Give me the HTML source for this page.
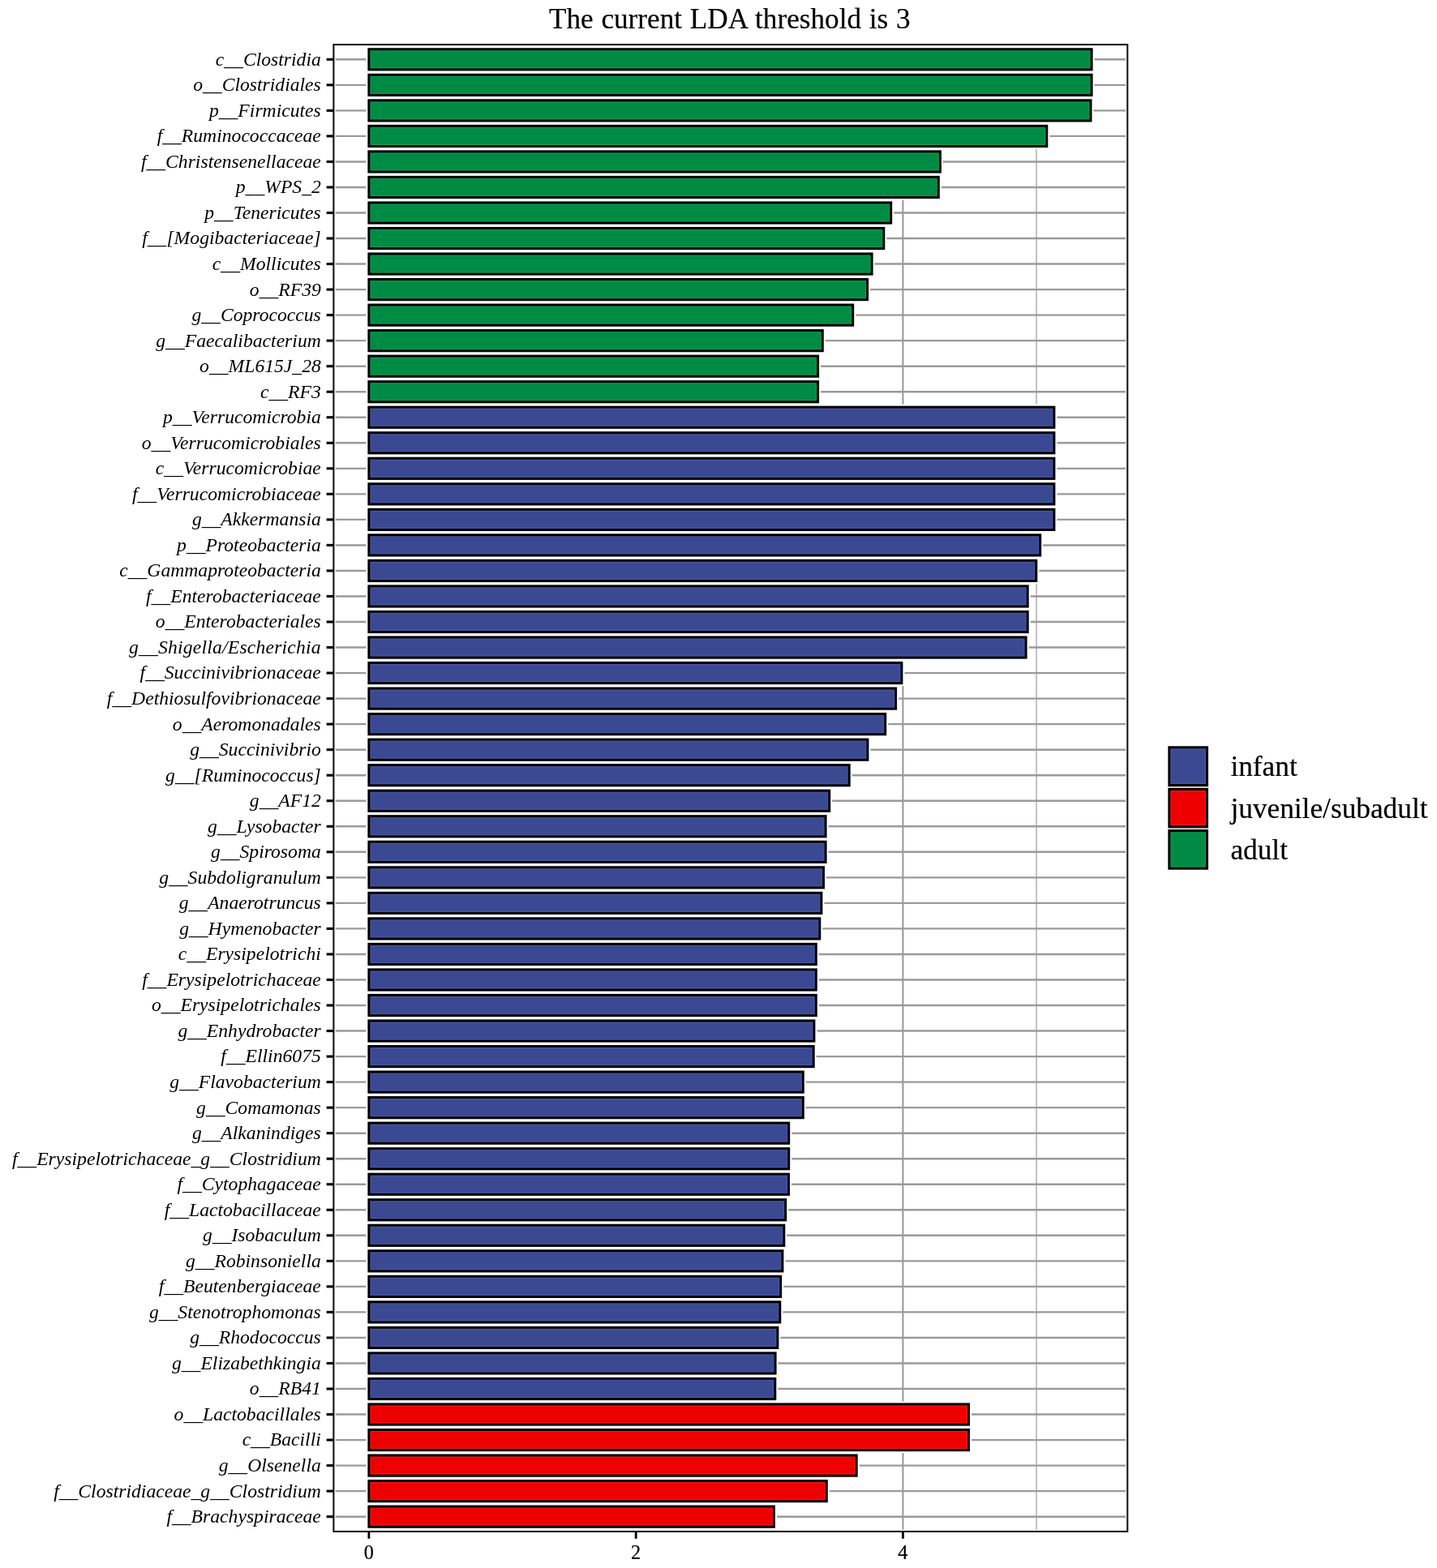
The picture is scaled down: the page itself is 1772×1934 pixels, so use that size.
<!DOCTYPE html>
<html lang="en"><head><meta charset="utf-8"><title>The current LDA threshold is 3</title>
<style>
html,body{margin:0;padding:0;background:#fff}
body{width:1772px;height:1934px}
svg{display:block}
text{font-family:"Liberation Serif","Times New Roman",serif;fill:#000;stroke:#000;stroke-width:0.2px;paint-order:stroke}
.yl{font-style:italic;font-size:23.65px;text-anchor:end;stroke:none}
.xl{font-size:24.3px;text-anchor:middle}
.lg{font-size:35.3px}
.tt{font-size:35.2px;text-anchor:start;word-spacing:1.02px}
.gh{stroke:#9a9a9a;stroke-width:2.4}
.gv{stroke:#9a9a9a;stroke-width:2.1}
.gm{stroke:#9a9a9a;stroke-width:1.2}
.halo{fill:#fff;stroke:#fff;stroke-width:7}
.bar{fill:none;stroke:#000;stroke-width:3}
.tk{stroke:#000;stroke-width:3.1}
.hl{fill:none;stroke-width:1.2;stroke-opacity:0.6}
</style></head><body>
<svg width="1772" height="1934" viewBox="0 0 1772 1934">
<rect x="0" y="0" width="1772" height="1934" fill="#fff"/>
<text class="tt" x="676.9" y="34.9">The current LDA threshold is 3</text>
<g id="grid">
<line class="gm" x1="619.53" y1="55" x2="619.53" y2="1889"/>
<line class="gm" x1="948.79" y1="55" x2="948.79" y2="1889"/>
<line class="gm" x1="1278.05" y1="55" x2="1278.05" y2="1889"/>
<line class="gv" x1="454.9" y1="55" x2="454.9" y2="1889"/>
<line class="gv" x1="784.16" y1="55" x2="784.16" y2="1889"/>
<line class="gv" x1="1113.42" y1="55" x2="1113.42" y2="1889"/>
<line class="gh" x1="411.4" y1="73.3" x2="1390.3" y2="73.3"/>
<line class="gh" x1="411.4" y1="104.83" x2="1390.3" y2="104.83"/>
<line class="gh" x1="411.4" y1="136.37" x2="1390.3" y2="136.37"/>
<line class="gh" x1="411.4" y1="167.9" x2="1390.3" y2="167.9"/>
<line class="gh" x1="411.4" y1="199.43" x2="1390.3" y2="199.43"/>
<line class="gh" x1="411.4" y1="230.97" x2="1390.3" y2="230.97"/>
<line class="gh" x1="411.4" y1="262.5" x2="1390.3" y2="262.5"/>
<line class="gh" x1="411.4" y1="294.03" x2="1390.3" y2="294.03"/>
<line class="gh" x1="411.4" y1="325.56" x2="1390.3" y2="325.56"/>
<line class="gh" x1="411.4" y1="357.1" x2="1390.3" y2="357.1"/>
<line class="gh" x1="411.4" y1="388.63" x2="1390.3" y2="388.63"/>
<line class="gh" x1="411.4" y1="420.16" x2="1390.3" y2="420.16"/>
<line class="gh" x1="411.4" y1="451.7" x2="1390.3" y2="451.7"/>
<line class="gh" x1="411.4" y1="483.23" x2="1390.3" y2="483.23"/>
<line class="gh" x1="411.4" y1="514.76" x2="1390.3" y2="514.76"/>
<line class="gh" x1="411.4" y1="546.29" x2="1390.3" y2="546.29"/>
<line class="gh" x1="411.4" y1="577.83" x2="1390.3" y2="577.83"/>
<line class="gh" x1="411.4" y1="609.36" x2="1390.3" y2="609.36"/>
<line class="gh" x1="411.4" y1="640.89" x2="1390.3" y2="640.89"/>
<line class="gh" x1="411.4" y1="672.43" x2="1390.3" y2="672.43"/>
<line class="gh" x1="411.4" y1="703.96" x2="1390.3" y2="703.96"/>
<line class="gh" x1="411.4" y1="735.49" x2="1390.3" y2="735.49"/>
<line class="gh" x1="411.4" y1="767.03" x2="1390.3" y2="767.03"/>
<line class="gh" x1="411.4" y1="798.56" x2="1390.3" y2="798.56"/>
<line class="gh" x1="411.4" y1="830.09" x2="1390.3" y2="830.09"/>
<line class="gh" x1="411.4" y1="861.62" x2="1390.3" y2="861.62"/>
<line class="gh" x1="411.4" y1="893.16" x2="1390.3" y2="893.16"/>
<line class="gh" x1="411.4" y1="924.69" x2="1390.3" y2="924.69"/>
<line class="gh" x1="411.4" y1="956.22" x2="1390.3" y2="956.22"/>
<line class="gh" x1="411.4" y1="987.76" x2="1390.3" y2="987.76"/>
<line class="gh" x1="411.4" y1="1019.29" x2="1390.3" y2="1019.29"/>
<line class="gh" x1="411.4" y1="1050.82" x2="1390.3" y2="1050.82"/>
<line class="gh" x1="411.4" y1="1082.36" x2="1390.3" y2="1082.36"/>
<line class="gh" x1="411.4" y1="1113.89" x2="1390.3" y2="1113.89"/>
<line class="gh" x1="411.4" y1="1145.42" x2="1390.3" y2="1145.42"/>
<line class="gh" x1="411.4" y1="1176.95" x2="1390.3" y2="1176.95"/>
<line class="gh" x1="411.4" y1="1208.49" x2="1390.3" y2="1208.49"/>
<line class="gh" x1="411.4" y1="1240.02" x2="1390.3" y2="1240.02"/>
<line class="gh" x1="411.4" y1="1271.55" x2="1390.3" y2="1271.55"/>
<line class="gh" x1="411.4" y1="1303.09" x2="1390.3" y2="1303.09"/>
<line class="gh" x1="411.4" y1="1334.62" x2="1390.3" y2="1334.62"/>
<line class="gh" x1="411.4" y1="1366.15" x2="1390.3" y2="1366.15"/>
<line class="gh" x1="411.4" y1="1397.69" x2="1390.3" y2="1397.69"/>
<line class="gh" x1="411.4" y1="1429.22" x2="1390.3" y2="1429.22"/>
<line class="gh" x1="411.4" y1="1460.75" x2="1390.3" y2="1460.75"/>
<line class="gh" x1="411.4" y1="1492.29" x2="1390.3" y2="1492.29"/>
<line class="gh" x1="411.4" y1="1523.82" x2="1390.3" y2="1523.82"/>
<line class="gh" x1="411.4" y1="1555.35" x2="1390.3" y2="1555.35"/>
<line class="gh" x1="411.4" y1="1586.88" x2="1390.3" y2="1586.88"/>
<line class="gh" x1="411.4" y1="1618.42" x2="1390.3" y2="1618.42"/>
<line class="gh" x1="411.4" y1="1649.95" x2="1390.3" y2="1649.95"/>
<line class="gh" x1="411.4" y1="1681.48" x2="1390.3" y2="1681.48"/>
<line class="gh" x1="411.4" y1="1713.02" x2="1390.3" y2="1713.02"/>
<line class="gh" x1="411.4" y1="1744.55" x2="1390.3" y2="1744.55"/>
<line class="gh" x1="411.4" y1="1776.08" x2="1390.3" y2="1776.08"/>
<line class="gh" x1="411.4" y1="1807.62" x2="1390.3" y2="1807.62"/>
<line class="gh" x1="411.4" y1="1839.15" x2="1390.3" y2="1839.15"/>
<line class="gh" x1="411.4" y1="1870.68" x2="1390.3" y2="1870.68"/>
</g>
<g id="bars">
<rect class="halo" x="454.9" y="60.7" width="891.2" height="25.2"/>
<rect class="halo" x="454.9" y="92.23" width="891.2" height="25.2"/>
<rect class="halo" x="454.9" y="123.77" width="890.1" height="25.2"/>
<rect class="halo" x="454.9" y="155.3" width="835.9" height="25.2"/>
<rect class="halo" x="454.9" y="186.83" width="704.5" height="25.2"/>
<rect class="halo" x="454.9" y="218.37" width="702.4" height="25.2"/>
<rect class="halo" x="454.9" y="249.9" width="643.8" height="25.2"/>
<rect class="halo" x="454.9" y="281.43" width="634.9" height="25.2"/>
<rect class="halo" x="454.9" y="312.96" width="620.2" height="25.2"/>
<rect class="halo" x="454.9" y="344.5" width="614.7" height="25.2"/>
<rect class="halo" x="454.9" y="376.03" width="596.8" height="25.2"/>
<rect class="halo" x="454.9" y="407.56" width="559.4" height="25.2"/>
<rect class="halo" x="454.9" y="439.1" width="553.7" height="25.2"/>
<rect class="halo" x="454.9" y="470.63" width="553.7" height="25.2"/>
<rect class="halo" x="454.9" y="502.16" width="845" height="25.2"/>
<rect class="halo" x="454.9" y="533.69" width="845" height="25.2"/>
<rect class="halo" x="454.9" y="565.23" width="845" height="25.2"/>
<rect class="halo" x="454.9" y="596.76" width="845" height="25.2"/>
<rect class="halo" x="454.9" y="628.29" width="845" height="25.2"/>
<rect class="halo" x="454.9" y="659.83" width="827.8" height="25.2"/>
<rect class="halo" x="454.9" y="691.36" width="822.9" height="25.2"/>
<rect class="halo" x="454.9" y="722.89" width="812.3" height="25.2"/>
<rect class="halo" x="454.9" y="754.43" width="812.3" height="25.2"/>
<rect class="halo" x="454.9" y="785.96" width="810.2" height="25.2"/>
<rect class="halo" x="454.9" y="817.49" width="657" height="25.2"/>
<rect class="halo" x="454.9" y="849.02" width="649.7" height="25.2"/>
<rect class="halo" x="454.9" y="880.56" width="636.8" height="25.2"/>
<rect class="halo" x="454.9" y="912.09" width="615" height="25.2"/>
<rect class="halo" x="454.9" y="943.62" width="592.3" height="25.2"/>
<rect class="halo" x="454.9" y="975.16" width="567.8" height="25.2"/>
<rect class="halo" x="454.9" y="1006.69" width="563.2" height="25.2"/>
<rect class="halo" x="454.9" y="1038.22" width="563.2" height="25.2"/>
<rect class="halo" x="454.9" y="1069.76" width="560.6" height="25.2"/>
<rect class="halo" x="454.9" y="1101.29" width="558" height="25.2"/>
<rect class="halo" x="454.9" y="1132.82" width="555.9" height="25.2"/>
<rect class="halo" x="454.9" y="1164.36" width="551.4" height="25.2"/>
<rect class="halo" x="454.9" y="1195.89" width="551.4" height="25.2"/>
<rect class="halo" x="454.9" y="1227.42" width="551.4" height="25.2"/>
<rect class="halo" x="454.9" y="1258.95" width="549" height="25.2"/>
<rect class="halo" x="454.9" y="1290.49" width="548.3" height="25.2"/>
<rect class="halo" x="454.9" y="1322.02" width="535.4" height="25.2"/>
<rect class="halo" x="454.9" y="1353.55" width="535.4" height="25.2"/>
<rect class="halo" x="454.9" y="1385.09" width="517.8" height="25.2"/>
<rect class="halo" x="454.9" y="1416.62" width="517.8" height="25.2"/>
<rect class="halo" x="454.9" y="1448.15" width="517.6" height="25.2"/>
<rect class="halo" x="454.9" y="1479.69" width="513.8" height="25.2"/>
<rect class="halo" x="454.9" y="1511.22" width="511.9" height="25.2"/>
<rect class="halo" x="454.9" y="1542.75" width="510" height="25.2"/>
<rect class="halo" x="454.9" y="1574.28" width="507.8" height="25.2"/>
<rect class="halo" x="454.9" y="1605.82" width="506.9" height="25.2"/>
<rect class="halo" x="454.9" y="1637.35" width="504" height="25.2"/>
<rect class="halo" x="454.9" y="1668.88" width="501.2" height="25.2"/>
<rect class="halo" x="454.9" y="1700.42" width="500.9" height="25.2"/>
<rect class="halo" x="454.9" y="1731.95" width="739.6" height="25.2"/>
<rect class="halo" x="454.9" y="1763.48" width="739.6" height="25.2"/>
<rect class="halo" x="454.9" y="1795.02" width="601.3" height="25.2"/>
<rect class="halo" x="454.9" y="1826.55" width="564.4" height="25.2"/>
<rect class="halo" x="454.9" y="1858.08" width="499.5" height="25.2"/>
<rect x="454.9" y="60.7" width="891.2" height="25.2" fill="#008B45"/>
<rect x="454.9" y="92.23" width="891.2" height="25.2" fill="#008B45"/>
<rect x="454.9" y="123.77" width="890.1" height="25.2" fill="#008B45"/>
<rect x="454.9" y="155.3" width="835.9" height="25.2" fill="#008B45"/>
<rect x="454.9" y="186.83" width="704.5" height="25.2" fill="#008B45"/>
<rect x="454.9" y="218.37" width="702.4" height="25.2" fill="#008B45"/>
<rect x="454.9" y="249.9" width="643.8" height="25.2" fill="#008B45"/>
<rect x="454.9" y="281.43" width="634.9" height="25.2" fill="#008B45"/>
<rect x="454.9" y="312.96" width="620.2" height="25.2" fill="#008B45"/>
<rect x="454.9" y="344.5" width="614.7" height="25.2" fill="#008B45"/>
<rect x="454.9" y="376.03" width="596.8" height="25.2" fill="#008B45"/>
<rect x="454.9" y="407.56" width="559.4" height="25.2" fill="#008B45"/>
<rect x="454.9" y="439.1" width="553.7" height="25.2" fill="#008B45"/>
<rect x="454.9" y="470.63" width="553.7" height="25.2" fill="#008B45"/>
<rect x="454.9" y="502.16" width="845" height="25.2" fill="#3B4992"/>
<rect x="454.9" y="533.69" width="845" height="25.2" fill="#3B4992"/>
<rect x="454.9" y="565.23" width="845" height="25.2" fill="#3B4992"/>
<rect x="454.9" y="596.76" width="845" height="25.2" fill="#3B4992"/>
<rect x="454.9" y="628.29" width="845" height="25.2" fill="#3B4992"/>
<rect x="454.9" y="659.83" width="827.8" height="25.2" fill="#3B4992"/>
<rect x="454.9" y="691.36" width="822.9" height="25.2" fill="#3B4992"/>
<rect x="454.9" y="722.89" width="812.3" height="25.2" fill="#3B4992"/>
<rect x="454.9" y="754.43" width="812.3" height="25.2" fill="#3B4992"/>
<rect x="454.9" y="785.96" width="810.2" height="25.2" fill="#3B4992"/>
<rect x="454.9" y="817.49" width="657" height="25.2" fill="#3B4992"/>
<rect x="454.9" y="849.02" width="649.7" height="25.2" fill="#3B4992"/>
<rect x="454.9" y="880.56" width="636.8" height="25.2" fill="#3B4992"/>
<rect x="454.9" y="912.09" width="615" height="25.2" fill="#3B4992"/>
<rect x="454.9" y="943.62" width="592.3" height="25.2" fill="#3B4992"/>
<rect x="454.9" y="975.16" width="567.8" height="25.2" fill="#3B4992"/>
<rect x="454.9" y="1006.69" width="563.2" height="25.2" fill="#3B4992"/>
<rect x="454.9" y="1038.22" width="563.2" height="25.2" fill="#3B4992"/>
<rect x="454.9" y="1069.76" width="560.6" height="25.2" fill="#3B4992"/>
<rect x="454.9" y="1101.29" width="558" height="25.2" fill="#3B4992"/>
<rect x="454.9" y="1132.82" width="555.9" height="25.2" fill="#3B4992"/>
<rect x="454.9" y="1164.36" width="551.4" height="25.2" fill="#3B4992"/>
<rect x="454.9" y="1195.89" width="551.4" height="25.2" fill="#3B4992"/>
<rect x="454.9" y="1227.42" width="551.4" height="25.2" fill="#3B4992"/>
<rect x="454.9" y="1258.95" width="549" height="25.2" fill="#3B4992"/>
<rect x="454.9" y="1290.49" width="548.3" height="25.2" fill="#3B4992"/>
<rect x="454.9" y="1322.02" width="535.4" height="25.2" fill="#3B4992"/>
<rect x="454.9" y="1353.55" width="535.4" height="25.2" fill="#3B4992"/>
<rect x="454.9" y="1385.09" width="517.8" height="25.2" fill="#3B4992"/>
<rect x="454.9" y="1416.62" width="517.8" height="25.2" fill="#3B4992"/>
<rect x="454.9" y="1448.15" width="517.6" height="25.2" fill="#3B4992"/>
<rect x="454.9" y="1479.69" width="513.8" height="25.2" fill="#3B4992"/>
<rect x="454.9" y="1511.22" width="511.9" height="25.2" fill="#3B4992"/>
<rect x="454.9" y="1542.75" width="510" height="25.2" fill="#3B4992"/>
<rect x="454.9" y="1574.28" width="507.8" height="25.2" fill="#3B4992"/>
<rect x="454.9" y="1605.82" width="506.9" height="25.2" fill="#3B4992"/>
<rect x="454.9" y="1637.35" width="504" height="25.2" fill="#3B4992"/>
<rect x="454.9" y="1668.88" width="501.2" height="25.2" fill="#3B4992"/>
<rect x="454.9" y="1700.42" width="500.9" height="25.2" fill="#3B4992"/>
<rect x="454.9" y="1731.95" width="739.6" height="25.2" fill="#EE0000"/>
<rect x="454.9" y="1763.48" width="739.6" height="25.2" fill="#EE0000"/>
<rect x="454.9" y="1795.02" width="601.3" height="25.2" fill="#EE0000"/>
<rect x="454.9" y="1826.55" width="564.4" height="25.2" fill="#EE0000"/>
<rect x="454.9" y="1858.08" width="499.5" height="25.2" fill="#EE0000"/>
<rect class="hl" x="457" y="62.8" width="887" height="21" stroke="#19a55c"/>
<rect class="hl" x="457" y="94.33" width="887" height="21" stroke="#19a55c"/>
<rect class="hl" x="457" y="125.87" width="885.9" height="21" stroke="#19a55c"/>
<rect class="hl" x="457" y="157.4" width="831.7" height="21" stroke="#19a55c"/>
<rect class="hl" x="457" y="188.93" width="700.3" height="21" stroke="#19a55c"/>
<rect class="hl" x="457" y="220.47" width="698.2" height="21" stroke="#19a55c"/>
<rect class="hl" x="457" y="252" width="639.6" height="21" stroke="#19a55c"/>
<rect class="hl" x="457" y="283.53" width="630.7" height="21" stroke="#19a55c"/>
<rect class="hl" x="457" y="315.06" width="616" height="21" stroke="#19a55c"/>
<rect class="hl" x="457" y="346.6" width="610.5" height="21" stroke="#19a55c"/>
<rect class="hl" x="457" y="378.13" width="592.6" height="21" stroke="#19a55c"/>
<rect class="hl" x="457" y="409.66" width="555.2" height="21" stroke="#19a55c"/>
<rect class="hl" x="457" y="441.2" width="549.5" height="21" stroke="#19a55c"/>
<rect class="hl" x="457" y="472.73" width="549.5" height="21" stroke="#19a55c"/>
<rect class="hl" x="457" y="504.26" width="840.8" height="21" stroke="#5563b0"/>
<rect class="hl" x="457" y="535.79" width="840.8" height="21" stroke="#5563b0"/>
<rect class="hl" x="457" y="567.33" width="840.8" height="21" stroke="#5563b0"/>
<rect class="hl" x="457" y="598.86" width="840.8" height="21" stroke="#5563b0"/>
<rect class="hl" x="457" y="630.39" width="840.8" height="21" stroke="#5563b0"/>
<rect class="hl" x="457" y="661.93" width="823.6" height="21" stroke="#5563b0"/>
<rect class="hl" x="457" y="693.46" width="818.7" height="21" stroke="#5563b0"/>
<rect class="hl" x="457" y="724.99" width="808.1" height="21" stroke="#5563b0"/>
<rect class="hl" x="457" y="756.53" width="808.1" height="21" stroke="#5563b0"/>
<rect class="hl" x="457" y="788.06" width="806" height="21" stroke="#5563b0"/>
<rect class="hl" x="457" y="819.59" width="652.8" height="21" stroke="#5563b0"/>
<rect class="hl" x="457" y="851.12" width="645.5" height="21" stroke="#5563b0"/>
<rect class="hl" x="457" y="882.66" width="632.6" height="21" stroke="#5563b0"/>
<rect class="hl" x="457" y="914.19" width="610.8" height="21" stroke="#5563b0"/>
<rect class="hl" x="457" y="945.72" width="588.1" height="21" stroke="#5563b0"/>
<rect class="hl" x="457" y="977.26" width="563.6" height="21" stroke="#5563b0"/>
<rect class="hl" x="457" y="1008.79" width="559" height="21" stroke="#5563b0"/>
<rect class="hl" x="457" y="1040.32" width="559" height="21" stroke="#5563b0"/>
<rect class="hl" x="457" y="1071.86" width="556.4" height="21" stroke="#5563b0"/>
<rect class="hl" x="457" y="1103.39" width="553.8" height="21" stroke="#5563b0"/>
<rect class="hl" x="457" y="1134.92" width="551.7" height="21" stroke="#5563b0"/>
<rect class="hl" x="457" y="1166.45" width="547.2" height="21" stroke="#5563b0"/>
<rect class="hl" x="457" y="1197.99" width="547.2" height="21" stroke="#5563b0"/>
<rect class="hl" x="457" y="1229.52" width="547.2" height="21" stroke="#5563b0"/>
<rect class="hl" x="457" y="1261.05" width="544.8" height="21" stroke="#5563b0"/>
<rect class="hl" x="457" y="1292.59" width="544.1" height="21" stroke="#5563b0"/>
<rect class="hl" x="457" y="1324.12" width="531.2" height="21" stroke="#5563b0"/>
<rect class="hl" x="457" y="1355.65" width="531.2" height="21" stroke="#5563b0"/>
<rect class="hl" x="457" y="1387.19" width="513.6" height="21" stroke="#5563b0"/>
<rect class="hl" x="457" y="1418.72" width="513.6" height="21" stroke="#5563b0"/>
<rect class="hl" x="457" y="1450.25" width="513.4" height="21" stroke="#5563b0"/>
<rect class="hl" x="457" y="1481.79" width="509.6" height="21" stroke="#5563b0"/>
<rect class="hl" x="457" y="1513.32" width="507.7" height="21" stroke="#5563b0"/>
<rect class="hl" x="457" y="1544.85" width="505.8" height="21" stroke="#5563b0"/>
<rect class="hl" x="457" y="1576.38" width="503.6" height="21" stroke="#5563b0"/>
<rect class="hl" x="457" y="1607.92" width="502.7" height="21" stroke="#5563b0"/>
<rect class="hl" x="457" y="1639.45" width="499.8" height="21" stroke="#5563b0"/>
<rect class="hl" x="457" y="1670.98" width="497" height="21" stroke="#5563b0"/>
<rect class="hl" x="457" y="1702.52" width="496.7" height="21" stroke="#5563b0"/>
<rect class="hl" x="457" y="1734.05" width="735.4" height="21" stroke="#ff2a1f"/>
<rect class="hl" x="457" y="1765.58" width="735.4" height="21" stroke="#ff2a1f"/>
<rect class="hl" x="457" y="1797.12" width="597.1" height="21" stroke="#ff2a1f"/>
<rect class="hl" x="457" y="1828.65" width="560.2" height="21" stroke="#ff2a1f"/>
<rect class="hl" x="457" y="1860.18" width="495.3" height="21" stroke="#ff2a1f"/>
<rect class="bar" x="454.9" y="60.7" width="891.2" height="25.2"/>
<rect class="bar" x="454.9" y="92.23" width="891.2" height="25.2"/>
<rect class="bar" x="454.9" y="123.77" width="890.1" height="25.2"/>
<rect class="bar" x="454.9" y="155.3" width="835.9" height="25.2"/>
<rect class="bar" x="454.9" y="186.83" width="704.5" height="25.2"/>
<rect class="bar" x="454.9" y="218.37" width="702.4" height="25.2"/>
<rect class="bar" x="454.9" y="249.9" width="643.8" height="25.2"/>
<rect class="bar" x="454.9" y="281.43" width="634.9" height="25.2"/>
<rect class="bar" x="454.9" y="312.96" width="620.2" height="25.2"/>
<rect class="bar" x="454.9" y="344.5" width="614.7" height="25.2"/>
<rect class="bar" x="454.9" y="376.03" width="596.8" height="25.2"/>
<rect class="bar" x="454.9" y="407.56" width="559.4" height="25.2"/>
<rect class="bar" x="454.9" y="439.1" width="553.7" height="25.2"/>
<rect class="bar" x="454.9" y="470.63" width="553.7" height="25.2"/>
<rect class="bar" x="454.9" y="502.16" width="845" height="25.2"/>
<rect class="bar" x="454.9" y="533.69" width="845" height="25.2"/>
<rect class="bar" x="454.9" y="565.23" width="845" height="25.2"/>
<rect class="bar" x="454.9" y="596.76" width="845" height="25.2"/>
<rect class="bar" x="454.9" y="628.29" width="845" height="25.2"/>
<rect class="bar" x="454.9" y="659.83" width="827.8" height="25.2"/>
<rect class="bar" x="454.9" y="691.36" width="822.9" height="25.2"/>
<rect class="bar" x="454.9" y="722.89" width="812.3" height="25.2"/>
<rect class="bar" x="454.9" y="754.43" width="812.3" height="25.2"/>
<rect class="bar" x="454.9" y="785.96" width="810.2" height="25.2"/>
<rect class="bar" x="454.9" y="817.49" width="657" height="25.2"/>
<rect class="bar" x="454.9" y="849.02" width="649.7" height="25.2"/>
<rect class="bar" x="454.9" y="880.56" width="636.8" height="25.2"/>
<rect class="bar" x="454.9" y="912.09" width="615" height="25.2"/>
<rect class="bar" x="454.9" y="943.62" width="592.3" height="25.2"/>
<rect class="bar" x="454.9" y="975.16" width="567.8" height="25.2"/>
<rect class="bar" x="454.9" y="1006.69" width="563.2" height="25.2"/>
<rect class="bar" x="454.9" y="1038.22" width="563.2" height="25.2"/>
<rect class="bar" x="454.9" y="1069.76" width="560.6" height="25.2"/>
<rect class="bar" x="454.9" y="1101.29" width="558" height="25.2"/>
<rect class="bar" x="454.9" y="1132.82" width="555.9" height="25.2"/>
<rect class="bar" x="454.9" y="1164.36" width="551.4" height="25.2"/>
<rect class="bar" x="454.9" y="1195.89" width="551.4" height="25.2"/>
<rect class="bar" x="454.9" y="1227.42" width="551.4" height="25.2"/>
<rect class="bar" x="454.9" y="1258.95" width="549" height="25.2"/>
<rect class="bar" x="454.9" y="1290.49" width="548.3" height="25.2"/>
<rect class="bar" x="454.9" y="1322.02" width="535.4" height="25.2"/>
<rect class="bar" x="454.9" y="1353.55" width="535.4" height="25.2"/>
<rect class="bar" x="454.9" y="1385.09" width="517.8" height="25.2"/>
<rect class="bar" x="454.9" y="1416.62" width="517.8" height="25.2"/>
<rect class="bar" x="454.9" y="1448.15" width="517.6" height="25.2"/>
<rect class="bar" x="454.9" y="1479.69" width="513.8" height="25.2"/>
<rect class="bar" x="454.9" y="1511.22" width="511.9" height="25.2"/>
<rect class="bar" x="454.9" y="1542.75" width="510" height="25.2"/>
<rect class="bar" x="454.9" y="1574.28" width="507.8" height="25.2"/>
<rect class="bar" x="454.9" y="1605.82" width="506.9" height="25.2"/>
<rect class="bar" x="454.9" y="1637.35" width="504" height="25.2"/>
<rect class="bar" x="454.9" y="1668.88" width="501.2" height="25.2"/>
<rect class="bar" x="454.9" y="1700.42" width="500.9" height="25.2"/>
<rect class="bar" x="454.9" y="1731.95" width="739.6" height="25.2"/>
<rect class="bar" x="454.9" y="1763.48" width="739.6" height="25.2"/>
<rect class="bar" x="454.9" y="1795.02" width="601.3" height="25.2"/>
<rect class="bar" x="454.9" y="1826.55" width="564.4" height="25.2"/>
<rect class="bar" x="454.9" y="1858.08" width="499.5" height="25.2"/>
</g>
<rect x="411.4" y="55" width="978.9" height="1834" fill="none" stroke="#fff" stroke-width="4.6"/>
<rect id="panel-border" x="411.4" y="55" width="978.9" height="1834" fill="none" stroke="#141414" stroke-width="2.1"/>
<g id="ticks">
<line class="tk" x1="402.6" y1="73.3" x2="411.4" y2="73.3"/>
<line class="tk" x1="402.6" y1="104.83" x2="411.4" y2="104.83"/>
<line class="tk" x1="402.6" y1="136.37" x2="411.4" y2="136.37"/>
<line class="tk" x1="402.6" y1="167.9" x2="411.4" y2="167.9"/>
<line class="tk" x1="402.6" y1="199.43" x2="411.4" y2="199.43"/>
<line class="tk" x1="402.6" y1="230.97" x2="411.4" y2="230.97"/>
<line class="tk" x1="402.6" y1="262.5" x2="411.4" y2="262.5"/>
<line class="tk" x1="402.6" y1="294.03" x2="411.4" y2="294.03"/>
<line class="tk" x1="402.6" y1="325.56" x2="411.4" y2="325.56"/>
<line class="tk" x1="402.6" y1="357.1" x2="411.4" y2="357.1"/>
<line class="tk" x1="402.6" y1="388.63" x2="411.4" y2="388.63"/>
<line class="tk" x1="402.6" y1="420.16" x2="411.4" y2="420.16"/>
<line class="tk" x1="402.6" y1="451.7" x2="411.4" y2="451.7"/>
<line class="tk" x1="402.6" y1="483.23" x2="411.4" y2="483.23"/>
<line class="tk" x1="402.6" y1="514.76" x2="411.4" y2="514.76"/>
<line class="tk" x1="402.6" y1="546.29" x2="411.4" y2="546.29"/>
<line class="tk" x1="402.6" y1="577.83" x2="411.4" y2="577.83"/>
<line class="tk" x1="402.6" y1="609.36" x2="411.4" y2="609.36"/>
<line class="tk" x1="402.6" y1="640.89" x2="411.4" y2="640.89"/>
<line class="tk" x1="402.6" y1="672.43" x2="411.4" y2="672.43"/>
<line class="tk" x1="402.6" y1="703.96" x2="411.4" y2="703.96"/>
<line class="tk" x1="402.6" y1="735.49" x2="411.4" y2="735.49"/>
<line class="tk" x1="402.6" y1="767.03" x2="411.4" y2="767.03"/>
<line class="tk" x1="402.6" y1="798.56" x2="411.4" y2="798.56"/>
<line class="tk" x1="402.6" y1="830.09" x2="411.4" y2="830.09"/>
<line class="tk" x1="402.6" y1="861.62" x2="411.4" y2="861.62"/>
<line class="tk" x1="402.6" y1="893.16" x2="411.4" y2="893.16"/>
<line class="tk" x1="402.6" y1="924.69" x2="411.4" y2="924.69"/>
<line class="tk" x1="402.6" y1="956.22" x2="411.4" y2="956.22"/>
<line class="tk" x1="402.6" y1="987.76" x2="411.4" y2="987.76"/>
<line class="tk" x1="402.6" y1="1019.29" x2="411.4" y2="1019.29"/>
<line class="tk" x1="402.6" y1="1050.82" x2="411.4" y2="1050.82"/>
<line class="tk" x1="402.6" y1="1082.36" x2="411.4" y2="1082.36"/>
<line class="tk" x1="402.6" y1="1113.89" x2="411.4" y2="1113.89"/>
<line class="tk" x1="402.6" y1="1145.42" x2="411.4" y2="1145.42"/>
<line class="tk" x1="402.6" y1="1176.95" x2="411.4" y2="1176.95"/>
<line class="tk" x1="402.6" y1="1208.49" x2="411.4" y2="1208.49"/>
<line class="tk" x1="402.6" y1="1240.02" x2="411.4" y2="1240.02"/>
<line class="tk" x1="402.6" y1="1271.55" x2="411.4" y2="1271.55"/>
<line class="tk" x1="402.6" y1="1303.09" x2="411.4" y2="1303.09"/>
<line class="tk" x1="402.6" y1="1334.62" x2="411.4" y2="1334.62"/>
<line class="tk" x1="402.6" y1="1366.15" x2="411.4" y2="1366.15"/>
<line class="tk" x1="402.6" y1="1397.69" x2="411.4" y2="1397.69"/>
<line class="tk" x1="402.6" y1="1429.22" x2="411.4" y2="1429.22"/>
<line class="tk" x1="402.6" y1="1460.75" x2="411.4" y2="1460.75"/>
<line class="tk" x1="402.6" y1="1492.29" x2="411.4" y2="1492.29"/>
<line class="tk" x1="402.6" y1="1523.82" x2="411.4" y2="1523.82"/>
<line class="tk" x1="402.6" y1="1555.35" x2="411.4" y2="1555.35"/>
<line class="tk" x1="402.6" y1="1586.88" x2="411.4" y2="1586.88"/>
<line class="tk" x1="402.6" y1="1618.42" x2="411.4" y2="1618.42"/>
<line class="tk" x1="402.6" y1="1649.95" x2="411.4" y2="1649.95"/>
<line class="tk" x1="402.6" y1="1681.48" x2="411.4" y2="1681.48"/>
<line class="tk" x1="402.6" y1="1713.02" x2="411.4" y2="1713.02"/>
<line class="tk" x1="402.6" y1="1744.55" x2="411.4" y2="1744.55"/>
<line class="tk" x1="402.6" y1="1776.08" x2="411.4" y2="1776.08"/>
<line class="tk" x1="402.6" y1="1807.62" x2="411.4" y2="1807.62"/>
<line class="tk" x1="402.6" y1="1839.15" x2="411.4" y2="1839.15"/>
<line class="tk" x1="402.6" y1="1870.68" x2="411.4" y2="1870.68"/>
<line class="tk" style="stroke-width:2.8" x1="454.9" y1="1889" x2="454.9" y2="1897.8"/>
<line class="tk" style="stroke-width:2.8" x1="784.16" y1="1889" x2="784.16" y2="1897.8"/>
<line class="tk" style="stroke-width:2.8" x1="1113.42" y1="1889" x2="1113.42" y2="1897.8"/>
</g>
<g id="ylabels">
<text class="yl" x="395.8" y="80.7">c__Clostridia</text>
<text class="yl" x="395.8" y="112.23">o__Clostridiales</text>
<text class="yl" x="395.8" y="143.77">p__Firmicutes</text>
<text class="yl" x="395.8" y="175.3">f__Ruminococcaceae</text>
<text class="yl" x="395.8" y="206.83">f__Christensenellaceae</text>
<text class="yl" x="395.8" y="238.37">p__WPS_2</text>
<text class="yl" x="395.8" y="269.9">p__Tenericutes</text>
<text class="yl" x="395.8" y="301.43">f__[Mogibacteriaceae]</text>
<text class="yl" x="395.8" y="332.96">c__Mollicutes</text>
<text class="yl" x="395.8" y="364.5">o__RF39</text>
<text class="yl" x="395.8" y="396.03">g__Coprococcus</text>
<text class="yl" x="395.8" y="427.56">g__Faecalibacterium</text>
<text class="yl" x="395.8" y="459.1">o__ML615J_28</text>
<text class="yl" x="395.8" y="490.63">c__RF3</text>
<text class="yl" x="395.8" y="522.16">p__Verrucomicrobia</text>
<text class="yl" x="395.8" y="553.69">o__Verrucomicrobiales</text>
<text class="yl" x="395.8" y="585.23">c__Verrucomicrobiae</text>
<text class="yl" x="395.8" y="616.76">f__Verrucomicrobiaceae</text>
<text class="yl" x="395.8" y="648.29">g__Akkermansia</text>
<text class="yl" x="395.8" y="679.83">p__Proteobacteria</text>
<text class="yl" x="395.8" y="711.36">c__Gammaproteobacteria</text>
<text class="yl" x="395.8" y="742.89">f__Enterobacteriaceae</text>
<text class="yl" x="395.8" y="774.43">o__Enterobacteriales</text>
<text class="yl" x="395.8" y="805.96" style="letter-spacing:0.19px">g__Shigella/Escherichia</text>
<text class="yl" x="395.8" y="837.49">f__Succinivibrionaceae</text>
<text class="yl" x="395.8" y="869.02">f__Dethiosulfovibrionaceae</text>
<text class="yl" x="395.8" y="900.56">o__Aeromonadales</text>
<text class="yl" x="395.8" y="932.09">g__Succinivibrio</text>
<text class="yl" x="395.8" y="963.62">g__[Ruminococcus]</text>
<text class="yl" x="395.8" y="995.16">g__AF12</text>
<text class="yl" x="395.8" y="1026.69">g__Lysobacter</text>
<text class="yl" x="395.8" y="1058.22">g__Spirosoma</text>
<text class="yl" x="395.8" y="1089.76">g__Subdoligranulum</text>
<text class="yl" x="395.8" y="1121.29">g__Anaerotruncus</text>
<text class="yl" x="395.8" y="1152.82">g__Hymenobacter</text>
<text class="yl" x="395.8" y="1184.36">c__Erysipelotrichi</text>
<text class="yl" x="395.8" y="1215.89">f__Erysipelotrichaceae</text>
<text class="yl" x="395.8" y="1247.42">o__Erysipelotrichales</text>
<text class="yl" x="395.8" y="1278.95">g__Enhydrobacter</text>
<text class="yl" x="395.8" y="1310.49">f__Ellin6075</text>
<text class="yl" x="395.8" y="1342.02">g__Flavobacterium</text>
<text class="yl" x="395.8" y="1373.55">g__Comamonas</text>
<text class="yl" x="395.8" y="1405.09">g__Alkanindiges</text>
<text class="yl" x="395.8" y="1436.62">f__Erysipelotrichaceae_g__Clostridium</text>
<text class="yl" x="395.8" y="1468.15">f__Cytophagaceae</text>
<text class="yl" x="395.8" y="1499.69">f__Lactobacillaceae</text>
<text class="yl" x="395.8" y="1531.22">g__Isobaculum</text>
<text class="yl" x="395.8" y="1562.75">g__Robinsoniella</text>
<text class="yl" x="395.8" y="1594.28">f__Beutenbergiaceae</text>
<text class="yl" x="395.8" y="1625.82">g__Stenotrophomonas</text>
<text class="yl" x="395.8" y="1657.35">g__Rhodococcus</text>
<text class="yl" x="395.8" y="1688.88">g__Elizabethkingia</text>
<text class="yl" x="395.8" y="1720.42">o__RB41</text>
<text class="yl" x="395.8" y="1751.95">o__Lactobacillales</text>
<text class="yl" x="395.8" y="1783.48">c__Bacilli</text>
<text class="yl" x="395.8" y="1815.02">g__Olsenella</text>
<text class="yl" x="395.8" y="1846.55">f__Clostridiaceae_g__Clostridium</text>
<text class="yl" x="395.8" y="1878.08">f__Brachyspiraceae</text>
</g>
<g id="xlabels">
<text class="xl" x="454.9" y="1922.8">0</text>
<text class="xl" x="784.16" y="1922.8">2</text>
<text class="xl" x="1113.42" y="1922.8">4</text>
</g>
<g id="legend">
<rect x="1440.3" y="970" width="49.7" height="2" fill="#c8c8c8"/>
<rect x="1440.3" y="1021.2" width="49.7" height="2" fill="#c8c8c8"/>
<rect x="1441.8" y="921.8" width="46.7" height="46.7" fill="#3B4992"/>
<rect class="hl" x="1443.9" y="923.9" width="42.5" height="42.5" stroke="#5563b0"/>
<rect class="bar" x="1441.8" y="921.8" width="46.7" height="46.7"/>
<text class="lg" x="1517.4" y="957.4">infant</text>
<rect x="1441.8" y="973.5" width="46.7" height="46.2" fill="#EE0000"/>
<rect class="hl" x="1443.9" y="975.6" width="42.5" height="42" stroke="#ff2a1f"/>
<rect class="bar" x="1441.8" y="973.5" width="46.7" height="46.2"/>
<text class="lg" x="1517.4" y="1008.8">juvenile/subadult</text>
<rect x="1441.8" y="1024.7" width="46.7" height="46.5" fill="#008B45"/>
<rect class="hl" x="1443.9" y="1026.8" width="42.5" height="42.3" stroke="#19a55c"/>
<rect class="bar" x="1441.8" y="1024.7" width="46.7" height="46.5"/>
<text class="lg" x="1517.4" y="1059.9">adult</text>
</g>
</svg>
</body></html>
